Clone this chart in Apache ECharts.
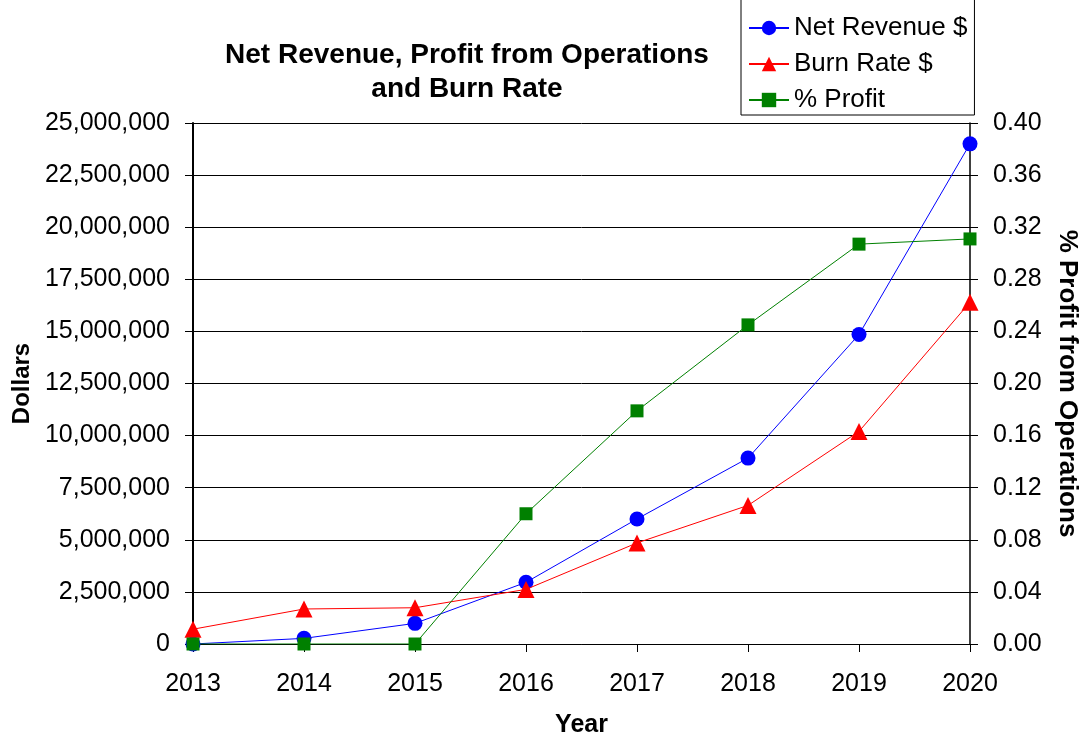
<!DOCTYPE html>
<html lang="en">
<head>
  <meta charset="UTF-8">
  <title>Net Revenue, Profit from Operations and Burn Rate</title>
  <script src="https://cdn.jsdelivr.net/npm/echarts@6/dist/echarts.min.js"></script>
</head>
<body style="margin:0">
  <div id="main" style="width:1082px;height:736px"></div>
  <script>
    var years = ['2013', '2014', '2015', '2016', '2017', '2018', '2019', '2020']
    var netRevenue = [0, 270000, 990000, 2960000, 6000000, 8920000, 14850000, 24000000]
    var burnRate = [710000, 1680000, 1740000, 2620000, 4850000, 6650000, 10200000, 16400000]
    var pctProfit = [0, 0, 0, 0.10, 0.179, 0.245, 0.307, 0.311]

    var font = 'Liberation Sans, Arial, sans-serif'
    var myChart = echarts.init(document.getElementById('main'))

    var options = {
      backgroundColor: '#fff',
      textStyle: { fontFamily: font },
      title: {
        text: 'Net Revenue, Profit from Operations\nand Burn Rate',
        left: 462,
        top: 33,
        textAlign: 'center',
        textStyle: { fontSize: 28, fontWeight: 'bold', color: '#000', lineHeight: 34, fontFamily: font }
      },
      legend: {
        orient: 'vertical',
        left: 741,
        top: -1,
        padding: [16, 7, 2, 7],
        itemGap: 10,
        itemWidth: 40,
        itemHeight: 18,
        borderColor: '#000',
        borderWidth: 1,
        borderRadius: 0,
        backgroundColor: '#fff',
        textStyle: { fontSize: 26, color: '#000', fontFamily: font },
        data: ['Net Revenue $', 'Burn Rate $', '% Profit']
      },
      grid: { left: 193, right: 112, top: 123, bottom: 92, outerBoundsMode: 'none' },
      xAxis: {
        type: 'category',
        data: years,
        boundaryGap: false,
        name: 'Year',
        nameLocation: 'middle',
        nameGap: 69,
        nameTextStyle: { fontSize: 25, fontWeight: 'bold', color: '#000' },
        axisLine: { lineStyle: { color: '#000', width: 1 } },
        axisTick: { alignWithLabel: true, length: 8, lineStyle: { color: '#000' } },
        axisLabel: { fontSize: 25, color: '#000', margin: 28 }
      },
      yAxis: [
        {
          type: 'value',
          min: 0,
          max: 25000000,
          interval: 2500000,
          name: 'Dollars',
          nameLocation: 'middle',
          nameGap: 159,
          nameTextStyle: { fontSize: 24, fontWeight: 'bold', color: '#000' },
          axisLine: { show: true, lineStyle: { color: '#000', width: 2 } },
          axisTick: { show: true, length: 8, lineStyle: { color: '#000' } },
          axisLabel: {
            fontSize: 25, color: '#000', margin: 23,
            formatter: function (v) { return v.toLocaleString('en-US') }
          },
          splitLine: { lineStyle: { color: '#000', width: 1 } }
        },
        {
          type: 'value',
          min: 0,
          max: 0.4,
          interval: 0.04,
          position: 'right',
          name: '% Profit from Operations',
          nameLocation: 'middle',
          nameGap: 84,
          nameRotate: -90,
          nameTextStyle: { fontSize: 26, fontWeight: 'bold', color: '#000' },
          axisLine: { show: true, lineStyle: { color: '#000', width: 1.5 } },
          axisTick: { show: true, length: 8, lineStyle: { color: '#000' } },
          axisLabel: {
            fontSize: 25, color: '#000', margin: 23,
            formatter: function (v) { return v.toFixed(2) }
          },
          splitLine: { show: false }
        }
      ],
      series: [
        {
          name: 'Net Revenue $',
          type: 'line',
          data: netRevenue,
          symbol: 'circle',
          symbolSize: 15,
          itemStyle: { color: '#0000ff' },
          lineStyle: { color: '#0000ff', width: 1 },
          z: 3
        },
        {
          name: 'Burn Rate $',
          type: 'line',
          data: burnRate,
          symbol: 'triangle',
          symbolSize: 17,
          itemStyle: { color: '#ff0000' },
          lineStyle: { color: '#ff0000', width: 1 },
          z: 4
        },
        {
          name: '% Profit',
          type: 'line',
          yAxisIndex: 1,
          data: pctProfit,
          symbol: 'rect',
          symbolSize: 13,
          itemStyle: { color: '#008000' },
          lineStyle: { color: '#008000', width: 1 },
          z: 5
        }
      ]
    }
    myChart.setOption(options)
  </script>
</body>
</html>
